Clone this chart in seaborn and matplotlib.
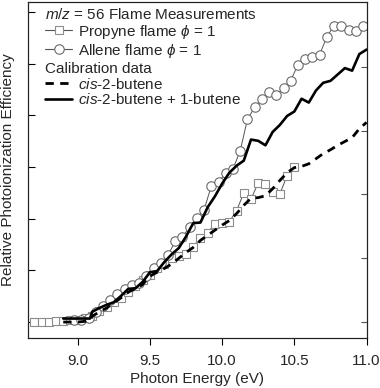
import numpy as np
import pandas as pd
import matplotlib
matplotlib.use("Agg")
import matplotlib.pyplot as plt
from matplotlib.lines import Line2D
import seaborn as sns

# ---------------- data ----------------
propyne_energy = [8.70, 8.75, 8.80, 8.85, 8.90, 8.95, 9.00, 9.05, 9.10, 9.15, 9.20, 9.25,
                  9.30, 9.35, 9.40, 9.45, 9.50, 9.55, 9.60, 9.65, 9.70, 9.75, 9.80, 9.85,
                  9.90, 9.95, 10.00, 10.05, 10.10, 10.15, 10.20, 10.25, 10.30, 10.35, 10.40,
                  10.45, 10.50]
propyne_signal = [0.00, 0.00, 0.00, 0.02, 0.02, 0.04, 0.04, 0.08, 0.12, 0.21, 0.29, 0.38,
                  0.46, 0.58, 0.69, 0.81, 0.90, 1.04, 1.12, 1.23, 1.27, 1.31, 1.46, 1.62,
                  1.73, 1.90, 1.92, 1.94, 2.15, 2.50, 2.38, 2.69, 2.67, 2.52, 2.48,
                  2.83, 3.00]

allene_energy = [8.975, 9.025, 9.075, 9.125, 9.175, 9.225, 9.275, 9.325, 9.375, 9.425,
                 9.475, 9.525, 9.575, 9.625, 9.675, 9.725, 9.775, 9.825, 9.875, 9.925,
                 9.975, 10.025, 10.075, 10.125, 10.175, 10.225, 10.275, 10.325, 10.375,
                 10.425, 10.475, 10.525, 10.575, 10.625, 10.675, 10.725, 10.775, 10.825,
                 10.875, 10.925, 10.975]
allene_signal = [0.04, 0.04, 0.08, 0.19, 0.31, 0.42, 0.54, 0.63, 0.71, 0.75,
                 0.88, 1.04, 1.15, 1.29, 1.56, 1.65, 1.83, 2.02, 2.17, 2.63,
                 2.71, 2.88, 2.96, 3.31, 3.92, 4.15, 4.31, 4.44, 4.40,
                 4.52, 4.67, 4.98, 5.08, 5.13, 5.17, 5.52, 5.73, 5.73,
                 5.65, 5.62, 5.73]

cal_energy = [8.90, 9.00, 9.085, 9.10, 9.15, 9.20, 9.25, 9.30, 9.35, 9.40, 9.45, 9.50,
              9.55, 9.60, 9.65, 9.70, 9.75, 9.80, 9.85, 9.90, 9.95, 10.00, 10.05, 10.10,
              10.15, 10.20, 10.25, 10.30, 10.35, 10.40, 10.45, 10.50, 10.55, 10.60,
              10.65, 10.70, 10.75, 10.80, 10.85, 10.90, 10.95, 11.00]
cis2_signal = [0.00, 0.00, 0.02, 0.09, 0.16, 0.22, 0.30, 0.38, 0.47, 0.52, 0.59, 0.72,
               0.78, 0.84, 0.91, 1.00, 1.09, 1.17, 1.28, 1.36, 1.44, 1.52, 1.59, 1.70,
               1.83, 1.94, 1.95, 1.98, 2.09, 2.22, 2.34, 2.42, 2.44, 2.48,
               2.56, 2.64, 2.70, 2.77, 2.83, 2.89, 3.03, 3.13]
cis2_1butene_signal = [0.055, 0.055, 0.055, 0.16, 0.22, 0.27, 0.31, 0.41, 0.52, 0.53, 0.63, 0.78,
                       0.80, 0.94, 1.06, 1.16, 1.34, 1.55, 1.56, 1.80, 1.97, 2.17, 2.34, 2.45,
                       2.53, 2.86, 2.84, 2.77, 2.98, 3.09, 3.23, 3.30, 3.50, 3.44,
                       3.63, 3.75, 3.78, 3.88, 3.98, 3.94, 4.20, 4.27]

x_ticks = [9.0, 9.5, 10.0, 10.5, 11.0]
x_tick_labels = ["9.0", "9.5", "10.0", "10.5", "11.0"]

legend_title_flame = r"$m/z$ = 56 Flame Measurements"
legend_title_cal = "Calibration data"
label_propyne = r"Propyne flame $\phi$ = 1"
label_allene = r"Allene flame $\phi$ = 1"
label_cis2 = r"$cis$-2-butene"
label_cis2_1b = r"$cis$-2-butene + 1-butene"

# ---------------- style ----------------
sns.set_theme(style="ticks")
plt.rcParams["font.family"] = ["Liberation Sans", "DejaVu Sans"]
plt.rcParams["mathtext.fontset"] = "custom"
plt.rcParams["mathtext.it"] = "Liberation Sans:italic"
plt.rcParams["mathtext.rm"] = "Liberation Sans"
plt.rcParams["mathtext.sf"] = "Liberation Sans"

FS = 11

fig = plt.figure(figsize=(3.8, 3.88), dpi=100)
ax = fig.add_axes([28 / 380, 1 - 338 / 388, (367 - 28) / 380, (338 - 2) / 388])
ax2 = ax.twinx()

df_prop = pd.DataFrame({"energy": propyne_energy, "signal": propyne_signal})
df_all = pd.DataFrame({"energy": allene_energy, "signal": allene_signal})
df_cal = pd.DataFrame({"energy": cal_energy, "cis2": cis2_signal, "mix": cis2_1butene_signal})

sq_kw = dict(marker="s", markersize=6.2, markerfacecolor="white",
             markeredgecolor="#8c8c8c", markeredgewidth=0.8)
ci_kw = dict(marker="o", markersize=6.8, markerfacecolor="white",
             markeredgecolor="#6a6a6a", markeredgewidth=0.8)

sns.lineplot(data=df_prop, x="energy", y="signal", ax=ax, sort=False, estimator=None,
             color="#555555", linewidth=0.7, zorder=3, **sq_kw)
sns.lineplot(data=df_all, x="energy", y="signal", ax=ax, sort=False, estimator=None,
             color="#555555", linewidth=0.7, zorder=3, **ci_kw)
sns.lineplot(data=df_cal, x="energy", y="cis2", ax=ax2, sort=False, estimator=None,
             color="black", linewidth=2.0, linestyle=(0, (3.0, 2.3)), zorder=4)
sns.lineplot(data=df_cal, x="energy", y="mix", ax=ax2, sort=False, estimator=None,
             color="black", linewidth=1.9, zorder=4)

ax.set_xlim(8.656, 11.003)
ax.set_ylim(-0.31, 6.19)
ax2.set_ylim(-0.25, 5.016)

ax.set_xticks(x_ticks)
ax.set_xticklabels(x_tick_labels, fontsize=FS)
ax.set_yticks(range(0, 7))
ax.set_yticklabels([])
ax2.set_yticks(range(0, 5))
ax2.set_yticklabels([])

ax.tick_params(axis="x", direction="out", length=5, width=0.8, color="black", pad=6.5)
ax.tick_params(axis="y", direction="in", length=5, width=0.8, color="black", left=True, right=False)
ax2.tick_params(axis="y", direction="in", length=4.5, width=0.8, color="#555555", right=True, left=False)

for a in (ax, ax2):
    for s in a.spines.values():
        s.set_visible(True)
        s.set_linewidth(0.8)
        s.set_color("#222222")

ax.set_xlabel("Photon Energy (eV)", fontsize=FS, labelpad=3)
ax.set_ylabel("Relative Photoionization Efficiency", fontsize=FS, labelpad=6)
ax2.set_ylabel("")

# ---------------- legends ----------------
h_prop = Line2D([], [], color="#555555", linewidth=0.8, **sq_kw)
h_all = Line2D([], [], color="#555555", linewidth=0.8, **ci_kw)
h_cis = Line2D([], [], color="black", linewidth=2.0, linestyle=(0, (3.0, 2.3)))
h_mix = Line2D([], [], color="black", linewidth=1.9)

common = dict(loc="upper left", frameon=False, alignment="left", borderpad=0,
              borderaxespad=0, handlelength=1.8, handletextpad=0.35, labelspacing=0.05,
              fontsize=FS, title_fontsize=FS, numpoints=1)
leg1 = ax2.legend(handles=[h_prop, h_all], labels=[label_propyne, label_allene],
                  title=legend_title_flame, bbox_to_anchor=(0.05, 0.985), **common)
ax2.add_artist(leg1)
leg2 = ax2.legend(handles=[h_cis, h_mix], labels=[label_cis2, label_cis2_1b],
                  title=legend_title_cal, bbox_to_anchor=(0.05, 0.822), **common)

fig.savefig("out.png", dpi=100)
